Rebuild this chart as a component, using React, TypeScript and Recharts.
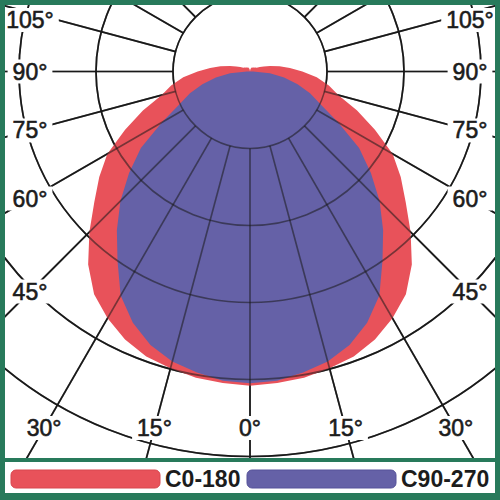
import { RadarChart, Radar, PolarGrid, PolarAngleAxis, PolarRadiusAxis } from 'recharts'

// photometric angle gamma, 0 = straight down, 5 degree steps, one half of the curve
const GAMMA = [
  0, 5, 10, 15, 20, 25, 30, 35, 40, 45, 50, 55, 60, 65, 70, 75, 80, 85, 90,
  95, 100, 105, 110, 115, 120, 125, 130, 135, 140, 145, 150, 155, 160, 165, 170, 175, 180,
]
const C0_180 = [
  408, 406, 404, 399, 394, 384, 370, 353, 327, 295, 264, 239, 214, 179, 148, 119, 104, 87, 68,
  52, 39, 27, 19, 14, 10, 9, 8, 7, 7, 6, 6, 6, 5, 4, 3, 1, 0,
]
const C90_270 = [
  405, 403, 397, 390, 378, 360, 336, 300, 269, 238, 205, 173, 132, 101, 83, 64, 45, 26, 4,
  0, 0, 0, 0, 0, 0, 0, 0, 0, 0, 0, 0, 0, 0, 0, 0, 0, 0,
]
const RINGS = [100, 200, 300, 400, 500]
const GRID_ANGLES = [0, 15, 30, 45, 60, 75, 90, 105, 120, 135, 150, 165, 180, 195, 210, 225, 240, 255, 270, 285, 300, 315, 330, 345]
const LABELLED = [0, 15, 30, 45, 60, 75, 90, 105]

const SERIES = [
  { key: 'c0', name: 'C0-180', color: '#E8525A', edge: '#d8464e' },
  { key: 'c90', name: 'C90-270', color: '#6561A7', edge: '#57539a' },
]

// mirror the half curve to a full turn
const rows = Array.from({ length: 72 }, (_, i) => {
  const k = i <= 36 ? i : 72 - i
  return { angle: i * 5, gamma: GAMMA[k], c0: C0_180[k], c90: C90_270[k] }
})

const W = 490
const H = 453
const CX = 245
const CY = 66.5
const RING_PX = 77
const MAX_R = RING_PX * RINGS.length
const BOX = { left: 25, right: 465, bottom: 423, top: 15 }
const GREEN = '#287a5b'
const FONT = '"Liberation Sans", Arial, sans-serif'

function labelSpot(angle: number) {
  const rad = (-angle * Math.PI) / 180
  const dx = Math.cos(rad)
  const dy = Math.sin(rad)
  let t = Infinity
  if (dx < -1e-6) t = Math.min(t, (BOX.left - CX) / dx)
  if (dx > 1e-6) t = Math.min(t, (BOX.right - CX) / dx)
  if (dy > 1e-6) t = Math.min(t, (BOX.bottom - CY) / dy)
  return { x: CX + t * dx, y: Math.max(BOX.top, CY + t * dy) }
}

function AngleTick(props: any) {
  const { payload } = props
  const v = Number(payload?.value)
  const g = v <= 180 ? v : 360 - v
  if (!LABELLED.includes(g)) return <g />
  const { x, y } = labelSpot(payload.coordinate)
  const text = `${g}°`
  const w = (String(g).length * 0.556 + 0.4) * 23 + 10
  return (
    <g>
      <rect x={x - w / 2} y={y - 12} width={w} height={24} fill="#fff" />
      <text
        x={x}
        y={y}
        textAnchor="middle"
        dominantBaseline="central"
        fontFamily={FONT}
        fontSize={23}
        fill="#1c1c1c"
        stroke="#1c1c1c"
        strokeWidth={0.6}
      >
        {text}
      </text>
    </g>
  )
}

const layer: React.CSSProperties = { position: 'absolute', left: 5, top: 5 }
const noMargin = { top: 0, right: 0, bottom: 0, left: 0 }

function Grid({ opacity }: { opacity: number }) {
  return (
    <PolarGrid
      gridType="circle"
      polarRadius={RINGS.map((r) => (r / 100) * RING_PX)}
      polarAngles={GRID_ANGLES}
      stroke="#1a1a1a"
      strokeWidth={1.7}
      strokeOpacity={opacity}
    />
  )
}

export default function App() {
  return (
    <div style={{ position: 'absolute', left: 0, top: 0, width: 500, height: 500, background: GREEN }}>
      <div style={{ ...layer, width: W, height: H, background: '#fff' }} />

      {/* grid under the fills */}
      <div style={layer}>
        <RadarChart width={W} height={H} data={rows} cx={CX} cy={CY} innerRadius={RING_PX} outerRadius={700}
          startAngle={-90} endAngle={-450} margin={noMargin}>
          <Grid opacity={1} />
          <PolarAngleAxis dataKey="angle" tick={false} axisLine={false} tickLine={false} />
        </RadarChart>
      </div>

      {/* the two C-plane curves */}
      <div style={layer}>
        <RadarChart width={W} height={H} data={rows} cx={CX} cy={CY} innerRadius={0} outerRadius={MAX_R}
          startAngle={-90} endAngle={-450} margin={noMargin}>
          <PolarAngleAxis dataKey="angle" tick={false} axisLine={false} tickLine={false} />
          <PolarRadiusAxis domain={[0, 500]} tick={false} axisLine={false} />
          {SERIES.map((s) => (
            <Radar key={s.key} dataKey={s.key} name={s.name} fill={s.color} fillOpacity={1}
              stroke="none" isAnimationActive={false} />
          ))}
        </RadarChart>
      </div>

      {/* grid over the fills, and the angle labels */}
      <div style={layer}>
        <RadarChart width={W} height={H} data={rows} cx={CX} cy={CY} innerRadius={RING_PX} outerRadius={700}
          startAngle={-90} endAngle={-450} margin={noMargin}>
          <Grid opacity={0.55} />
          <PolarAngleAxis dataKey="angle" tick={AngleTick} axisLine={false} tickLine={false} />
        </RadarChart>
      </div>

      {/* legend */}
      <svg width={490} height={31} style={{ position: 'absolute', left: 5, top: 462, background: '#fff' }}>
        {SERIES.map((s, i) => {
          const x0 = i === 0 ? 6 : 242
          return (
            <g key={s.key}>
              <rect x={x0} y={8} width={149} height={18} rx={5} fill={s.color} stroke={s.edge} strokeWidth={1} />
              <text x={x0 + 154} y={25} fontFamily={FONT} fontWeight="bold" fontSize={23} fill="#1c1c1c">
                {s.name}
              </text>
            </g>
          )
        })}
      </svg>
    </div>
  )
}
